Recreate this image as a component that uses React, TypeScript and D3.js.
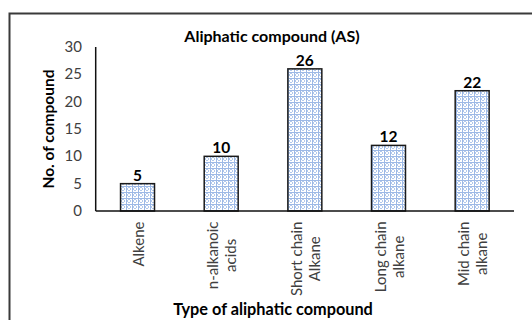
import React from "react";
import * as d3 from "d3";

const categories: string[][] = [
  ["Alkene"],
  ["n-alkanoic", "acids"],
  ["Short chain", "Alkane"],
  ["Long chain", "alkane"],
  ["Mid chain", "alkane"],
];
const counts: number[] = [5, 10, 26, 12, 22];
const yTicks: number[] = [0, 5, 10, 15, 20, 25, 30];

const chartTitle = "Aliphatic compound (AS)";
const xTitle = "Type of aliphatic compound";
const yTitle = "No. of compound";

const W = 532;
const H = 320;
const FONT = "Lato, 'Open Sans', sans-serif";
const plot = { left: 95.7, right: 514, top: 47, bottom: 211 };

const tickFontSize = 15;

let measureCtx: CanvasRenderingContext2D | null = null;
function textWidth(text: string, font: string): number {
  if (!measureCtx) {
    const c = document.createElement("canvas");
    measureCtx = c.getContext("2d");
  }
  if (!measureCtx) return text.length * 7;
  measureCtx.font = font;
  return measureCtx.measureText(text).width;
}

export default function App() {
  const x = d3
    .scaleBand<number>()
    .domain(d3.range(counts.length))
    .range([plot.left, plot.right])
    .paddingInner(0.594)
    .paddingOuter(0.297);
  const y = d3.scaleLinear().domain([0, 30]).range([plot.bottom, plot.top]);

  const lineGap = 18;
  const labelTop = 221.5;

  return (
    <svg
      width={W}
      height={H}
      style={{ position: "absolute", left: 0, top: 0, background: "#fff" }}
      fontFamily={FONT}
    >
      <defs>
        <pattern id="lattice" width="6" height="6" patternUnits="userSpaceOnUse">
          <rect width="6" height="6" fill="#ffffff" />
          <rect x="0" y="0" width="1" height="6" fill="#9db9e6" />
          <rect x="0" y="0" width="6" height="1" fill="#9db9e6" />
          <path d="M3 1 L5 3 L3 5 L1 3 Z" fill="none" stroke="#8fb0e2" strokeWidth="0.7" />
        </pattern>
      </defs>

      {/* outer frame */}
      <rect x={9.5} y={13.5} width={W + 10} height={H + 10} fill="none" stroke="#3a3a3a" strokeWidth={2} />

      <text x={272} y={42} textAnchor="middle" fontSize={16} fontWeight="bold" fill="#000">
        {chartTitle}
      </text>

      {/* y tick labels */}
      {yTicks.map((t) => (
        <text key={t} x={82} y={y(t) + 5} textAnchor="end" fontSize={tickFontSize} fill="#404040">
          {t}
        </text>
      ))}

      {/* bars */}
      {counts.map((v, i) => (
        <rect
          key={i}
          x={x(i)!}
          y={y(v)}
          width={x.bandwidth()}
          height={y(0) - y(v)}
          fill="url(#lattice)"
          stroke="#1a1a1a"
          strokeWidth={1.5}
        />
      ))}

      {/* value labels */}
      {counts.map((v, i) => (
        <text
          key={i}
          x={x(i)! + x.bandwidth() / 2}
          y={y(v) - 3}
          textAnchor="middle"
          fontSize={15.5}
          fontWeight="bold"
          fill="#000"
        >
          {v}
        </text>
      ))}

      {/* axes */}
      <line x1={plot.left} x2={plot.left} y1={plot.top} y2={plot.bottom} stroke="#111" strokeWidth={1.5} />
      <line x1={plot.left} x2={plot.right} y1={plot.bottom} y2={plot.bottom} stroke="#111" strokeWidth={1.5} />

      {/* category labels, rotated, top-aligned block with centred lines */}
      {categories.map((lines, i) => {
        const cx = x(i)! + x.bandwidth() / 2;
        const maxLen = d3.max(lines, (l) => textWidth(l, `${tickFontSize}px ${FONT}`)) || 0;
        const cy = labelTop + maxLen / 2;
        return lines.map((l, j) => {
          const lx = cx + (j - (lines.length - 1) / 2) * lineGap + 6;
          return (
            <text
              key={`${i}-${j}`}
              transform={`translate(${lx},${cy}) rotate(-90)`}
              textAnchor="middle"
              fontSize={tickFontSize}
              fill="#404040"
            >
              {l}
            </text>
          );
        });
      })}

      <text
        transform={`translate(${54},${129}) rotate(-90)`}
        textAnchor="middle"
        fontSize={15.5}
        fontWeight="bold"
        fill="#000"
      >
        {yTitle}
      </text>

      <text x={273} y={315} textAnchor="middle" fontSize={16.3} fontWeight="bold" fill="#000">
        {xTitle}
      </text>
    </svg>
  );
}
